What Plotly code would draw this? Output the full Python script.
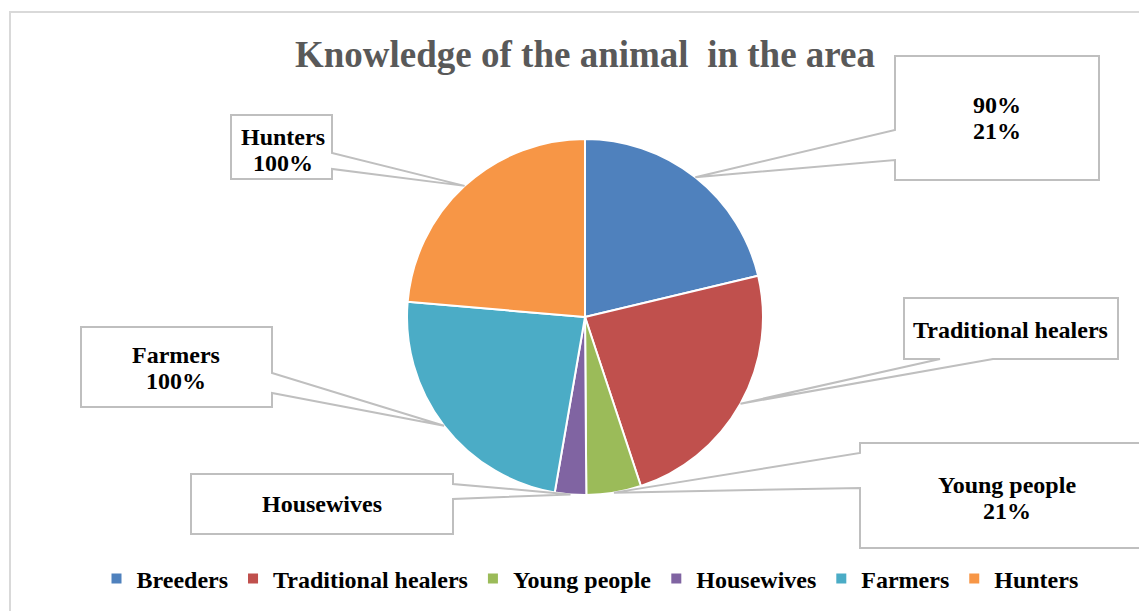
import math
import plotly.graph_objects as go

# ---- data ----
categories = ["Breeders", "Traditional healers", "Young people", "Housewives", "Farmers", "Hunters"]
values = [90, 100, 21, 12, 100, 100]          # knowledge (%)
colors = ["#4F81BD", "#C0504D", "#9BBB59", "#8064A2", "#4BACC6", "#F79646"]
label_lines = [["90%", "21%"], ["Traditional healers"], ["Young people", "21%"],
               ["Housewives"], ["Farmers", "100%"], ["Hunters", "100%"]]

W, H = 1147, 611
OFF = 8                     # page body margin in the browser
CX, CY, R = 585, 317, 178   # pie centre / radius in screen px
LINE_GAP = 26

def px(x):
    return (x - OFF) / W

def py(y):
    return 1 - (y - OFF) / H

fig = go.Figure()
fig.add_trace(go.Pie(
    labels=categories, values=values, sort=False, direction="clockwise", rotation=0,
    marker=dict(colors=colors, line=dict(color="white", width=2)),
    textinfo="none", hoverinfo="label+value",
    domain=dict(x=[px(CX - R), px(CX + R)], y=[py(CY + R), py(CY - R)]),
))

# mid angle of each slice -> callout tip on the pie edge
total = sum(values)
tips = []
cum = 0
for v in values:
    mid = (cum + v / 2) / total * 2 * math.pi
    tips.append((CX + R * math.sin(mid), CY - R * math.cos(mid)))
    cum += v

# callout boxes: (x0, y0, x1, y1, side, a, b, text_x, text_y)
boxes = [
    (895, 56, 1099, 180, "left", 130, 160, 997, 118),
    (904, 298, 1118, 359, "bottom", 940, 993, 1011, 330),
    (860, 443, 1175, 548, "left", 453, 488, 1007, 498),
    (191, 474, 453, 534, "right", 484, 499, 322, 504),
    (81, 327, 272, 407, "right", 373, 393, 176, 368),
    (231, 115, 332, 179, "right", 153, 169, 283, 150),
]

shapes = []
annotations = []
for (x0, y0, x1, y1, side, a, b, tx, ty), (tipx, tipy), lines in zip(boxes, tips, label_lines):
    if side == "left":
        pts = [(x0, y0), (x1, y0), (x1, y1), (x0, y1), (x0, b), (tipx, tipy), (x0, a)]
    elif side == "right":
        pts = [(x0, y0), (x1, y0), (x1, a), (tipx, tipy), (x1, b), (x1, y1), (x0, y1)]
    else:  # bottom
        pts = [(x0, y0), (x1, y0), (x1, y1), (b, y1), (tipx, tipy), (a, y1), (x0, y1)]
    path = "M " + " L ".join(f"{px(x):.5f},{py(y):.5f}" for x, y in pts) + " Z"
    shapes.append(dict(type="path", xref="paper", yref="paper", path=path,
                       line=dict(color="#BFBFBF", width=2), fillcolor="white", layer="above"))
    n = len(lines)
    for i, line in enumerate(lines):
        yy = ty + (i - (n - 1) / 2) * LINE_GAP
        annotations.append(dict(x=px(tx), y=py(yy), xref="paper", yref="paper", text=f"<b>{line}</b>",
                                showarrow=False, xanchor="center", yanchor="middle", align="center",
                                font=dict(family="Liberation Serif", size=24, color="black")))

# outer chart border
shapes.append(dict(type="rect", xref="paper", yref="paper", x0=px(10), y0=-0.1, x1=1.1, y1=py(12),
                   line=dict(color="#D9D9D9", width=2), fillcolor="rgba(0,0,0,0)", layer="below"))

annotations.append(dict(x=px(585), y=py(55), xref="paper", yref="paper",
                        text="<b>Knowledge of the animal  in the area</b>", showarrow=False,
                        xanchor="center", yanchor="middle",
                        font=dict(family="Liberation Serif", size=37, color="#595959")))

fig.update_layout(
    width=W, height=H, margin=dict(l=0, r=0, t=0, b=0),
    paper_bgcolor="white", plot_bgcolor="white",
    shapes=shapes, annotations=annotations,
    showlegend=True,
    legend=dict(orientation="h", x=px(590), xanchor="center", y=py(579), yanchor="middle",
                font=dict(family="Liberation Serif", size=24, color="black", weight="bold"),
                traceorder="normal", itemclick=False),
)

fig.write_html("out.html")
